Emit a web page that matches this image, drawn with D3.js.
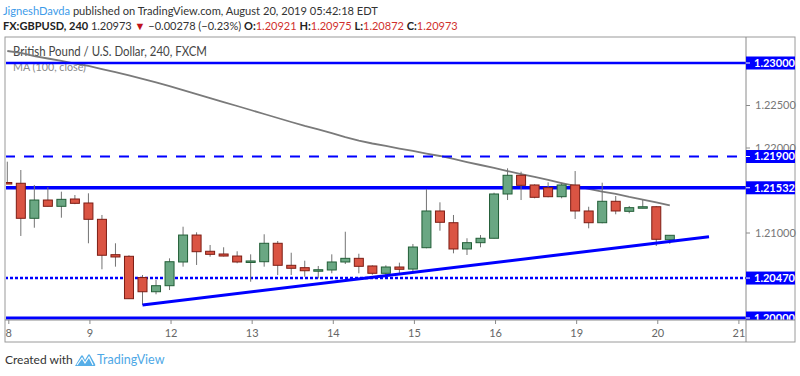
<!DOCTYPE html>
<html>
<head>
<meta charset="utf-8">
<script src="https://cdn.jsdelivr.net/npm/d3@7"></script>
<style>
  body { margin: 0; background: #fff; }
  svg { display: block; font-family: Lato, "Open Sans", sans-serif; }
</style>
</head>
<body>
<svg id="chart" width="800" height="376"></svg>
<script>
// --- data (GBPUSD 240, FXCM) ---
const dayLabels = ['8', '9', '12', '13', '14', '15', '16', '19', '20', '21'];
const candlesPerDay = 6;

const opens  = [1.21594, 1.21585, 1.21173, 1.21388, 1.21314, 1.21400, 1.21353, 1.21161, 1.20745, 1.20726,
                1.20476, 1.20309, 1.20380, 1.20659, 1.20976, 1.20785, 1.20753, 1.20729, 1.20659, 1.20662,
                1.20879, 1.20620, 1.20592, 1.20556, 1.20565, 1.20659, 1.20702, 1.20612, 1.20526, 1.20600,
                1.20576, 1.20827, 1.21259, 1.21121, 1.20812, 1.20886, 1.20938, 1.21459, 1.21679, 1.21565,
                1.21533, 1.21427, 1.21565, 1.21259, 1.21121, 1.21373, 1.21255, 1.21294, 1.21309, 1.20921];
const highs  = [1.21839, 1.21741, 1.21565, 1.21538, 1.21486, 1.21447, 1.21467, 1.21212, 1.20879, 1.20738,
                1.20506, 1.20447, 1.20702, 1.21074, 1.21008, 1.20859, 1.20832, 1.20785, 1.20749, 1.20985,
                1.20906, 1.20768, 1.20674, 1.20612, 1.20749, 1.21015, 1.20756, 1.20620, 1.20620, 1.20651,
                1.20871, 1.21518, 1.21361, 1.21212, 1.20938, 1.20976, 1.21474, 1.21761, 1.21721, 1.21573,
                1.21596, 1.21592, 1.21729, 1.21309, 1.21592, 1.21435, 1.21318, 1.21388, 1.21318, 1.20975];
const lows   = [1.21576, 1.20965, 1.21062, 1.21312, 1.21180, 1.21339, 1.20879, 1.20573, 1.20604, 1.20224,
                1.20153, 1.20279, 1.20329, 1.20604, 1.20624, 1.20721, 1.20724, 1.20644, 1.20427, 1.20604,
                1.20506, 1.20506, 1.20486, 1.20467, 1.20526, 1.20635, 1.20526, 1.20509, 1.20486, 1.20506,
                1.20526, 1.20820, 1.21027, 1.20761, 1.20741, 1.20832, 1.20935, 1.21388, 1.21388, 1.21408,
                1.21420, 1.21408, 1.21165, 1.21055, 1.21114, 1.21220, 1.21232, 1.21292, 1.20847, 1.20872];
const closes = [1.21582, 1.21173, 1.21388, 1.21314, 1.21396, 1.21349, 1.21161, 1.20738, 1.20718, 1.20227,
                1.20309, 1.20380, 1.20662, 1.20976, 1.20780, 1.20749, 1.20729, 1.20659, 1.20671, 1.20879,
                1.20620, 1.20585, 1.20556, 1.20568, 1.20659, 1.20702, 1.20608, 1.20526, 1.20600, 1.20573,
                1.20835, 1.21259, 1.21126, 1.20812, 1.20886, 1.20938, 1.21459, 1.21679, 1.21561, 1.21420,
                1.21427, 1.21565, 1.21259, 1.21121, 1.21373, 1.21259, 1.21298, 1.21309, 1.20926, 1.20973];

// MA(100, close), one value per candle
const maValues = [1.23141, 1.23118, 1.23082, 1.23053, 1.23024, 1.22994, 1.22965, 1.22929, 1.22894, 1.22853,
                  1.22812, 1.22771, 1.22729, 1.22682, 1.22635, 1.22588, 1.22541, 1.22494, 1.22447, 1.22400,
                  1.22353, 1.22306, 1.22259, 1.22218, 1.22176, 1.22129, 1.22088, 1.22053, 1.22024, 1.21994,
                  1.21965, 1.21935, 1.21906, 1.21871, 1.21835, 1.21800, 1.21765, 1.21729, 1.21694, 1.21659,
                  1.21624, 1.21588, 1.21553, 1.21518, 1.21488, 1.21459, 1.21424, 1.21394, 1.21359, 1.21324];

// horizontal levels drawn on the chart
const levels = [1.23000, 1.21900, 1.21532, 1.20470, 1.20000];
const levelDash = [null, '10,9', null, '3,2', null];
const levelWidth = [2.5, 2, 3.5, 2.5, 3];

// rising trend line (candle index, price)
const trendIdx = [10, 51.9];
const trendPrice = [1.20153, 1.20956];

const priceTicks = [1.200, 1.205, 1.210, 1.215, 1.220, 1.225, 1.230];

// --- layout ---
const svg = d3.select('#chart');
const plot = {left: 5, top: 37, right: 746, bottom: 320};
const boxRight = 795, boxBottom = 342;
const blue = '#0000ff';
const fmt = d3.format('.5f');

const x = d3.scaleLinear().domain([0, 54]).range([7.3, 737.4]);
const y = d3.scaleLinear().domain([1.2, 1.23]).range([318, 63]);

// header lines: segments laid out one after another, font sized to fit the reference width
function textRow(segs, x0, y0, width) {
  const row = svg.append('g');
  const nodes = segs.map(s => row.append('text').attr('y', y0).attr('font-size', 12)
    .attr('fill', s.color).attr('font-weight', s.bold ? 'bold' : null).attr('xml:space', 'preserve')
    .text(s.text));
  const total = d3.sum(nodes, n => n.node().getComputedTextLength());
  const k = width / total;
  let cx = x0;
  nodes.forEach(n => {
    n.attr('font-size', 12 * k).attr('x', cx);
    cx += n.node().getComputedTextLength();
  });
}

const last = closes.length - 1;
textRow([
  {text: 'JigneshDavda', color: '#3d9be9'},
  {text: ' published on TradingView.com, August 20, 2019 05:42:18 EDT', color: '#333'}
], 3, 15, 375);

const row2 = [
  {text: 'FX:GBPUSD, 240 ', color: '#222', bold: true},
  {text: fmt(closes[last]) + ' ', color: '#333'},
  {text: '\u25BC ', color: '#c0121b'},
  {text: '\u22120.00278 (\u22120.23%) ', color: '#333'}
];
[['O:', opens[last]], ['H:', highs[last]], ['L:', lows[last]], ['C:', closes[last]]].forEach(([k, v], j) => {
  row2.push({text: k, color: '#222', bold: true});
  row2.push({text: fmt(v) + (j < 3 ? ' ' : ''), color: '#d0312d'});
});
textRow(row2, 3, 30, 455);

// chart frame
svg.append('rect').attr('x', plot.left).attr('y', plot.top)
  .attr('width', boxRight - plot.left).attr('height', boxBottom - plot.top)
  .attr('fill', '#fff').attr('stroke', '#9a9a9a');

const defs = svg.append('defs');
defs.append('clipPath').attr('id', 'clip')
  .append('rect').attr('x', plot.left + 1).attr('y', plot.top + 1)
  .attr('width', plot.right - plot.left - 1).attr('height', plot.bottom - plot.top - 1);
defs.append('clipPath').attr('id', 'axisclip')
  .append('rect').attr('x', plot.right).attr('y', plot.top)
  .attr('width', boxRight - plot.right).attr('height', plot.bottom - plot.top);

// title + legend
svg.append('text').attr('x', 13).attr('y', 56).attr('font-size', 13).attr('fill', '#444')
  .attr('textLength', 194).attr('lengthAdjust', 'spacingAndGlyphs')
  .text('British Pound / U.S. Dollar, 240, FXCM');
svg.append('text').attr('x', 13).attr('y', 71).attr('font-size', 12).attr('fill', '#8a8a8a')
  .attr('textLength', 73).attr('lengthAdjust', 'spacingAndGlyphs')
  .text('MA (100, close)');

const g = svg.append('g').attr('clip-path', 'url(#clip)');

// MA line
g.append('path').datum(maValues)
  .attr('fill', 'none').attr('stroke', '#7a7a7a').attr('stroke-width', 1.8)
  .attr('d', d3.line().x((d, i) => x(i)).y(d => y(d)));

// levels
levels.forEach((p, i) => {
  g.append('line').attr('x1', plot.left).attr('x2', plot.right)
    .attr('y1', y(p)).attr('y2', y(p))
    .attr('stroke', blue).attr('stroke-width', levelWidth[i])
    .attr('stroke-dasharray', levelDash[i]);
});

// candles
const candles = opens.map((o, i) => ({i, o, h: highs[i], l: lows[i], c: closes[i]}));
const bodyW = 9;
const cg = g.selectAll('g.candle').data(candles).join('g').attr('class', 'candle');
cg.append('line')
  .attr('x1', d => x(d.i)).attr('x2', d => x(d.i))
  .attr('y1', d => y(d.h)).attr('y2', d => y(d.l))
  .attr('stroke', '#737373').attr('stroke-width', 1);
cg.append('rect')
  .attr('x', d => x(d.i) - bodyW / 2)
  .attr('y', d => y(Math.max(d.o, d.c)))
  .attr('width', bodyW)
  .attr('height', d => Math.max(1.5, Math.abs(y(d.o) - y(d.c))))
  .attr('fill', d => d.c >= d.o ? '#6aa783' : '#da5443')
  .attr('stroke', d => d.c >= d.o ? '#225e37' : '#7d1d14')
  .attr('stroke-width', 1);

// trend line
g.append('line')
  .attr('x1', x(trendIdx[0])).attr('y1', y(trendPrice[0]))
  .attr('x2', x(trendIdx[1])).attr('y2', y(trendPrice[1]))
  .attr('stroke', blue).attr('stroke-width', 3);

// price axis (labels hidden under a level box are skipped)
svg.append('line').attr('x1', plot.right).attr('x2', plot.right)
  .attr('y1', plot.top).attr('y2', boxBottom).attr('stroke', '#8a8a8a');
const pa = svg.append('g').attr('font-size', 11);
priceTicks.forEach(p => {
  pa.append('line').attr('x1', plot.right).attr('x2', plot.right + 4)
    .attr('y1', y(p)).attr('y2', y(p)).attr('stroke', '#8a8a8a');
  const covered = levels.some(l => Math.abs(y(l) - y(p)) < 6);
  if (covered) return;
  pa.append('text').attr('x', plot.right + 9).attr('y', y(p)).attr('dy', '0.35em')
    .attr('fill', '#777').text(fmt(p));
});
const lb = svg.append('g').attr('clip-path', 'url(#axisclip)');
levels.forEach(p => {
  lb.append('rect').attr('x', plot.right).attr('y', y(p) - 6.5)
    .attr('width', boxRight - plot.right).attr('height', 13).attr('fill', blue);
  lb.append('line').attr('x1', plot.right).attr('x2', plot.right + 4)
    .attr('y1', y(p)).attr('y2', y(p)).attr('stroke', '#fff');
  lb.append('text').attr('x', plot.right + 8).attr('y', y(p)).attr('dy', '0.36em')
    .attr('font-size', 11).attr('font-weight', 'bold').attr('fill', '#fff')
    .text(fmt(p));
});

// time axis
svg.append('line').attr('x1', plot.left).attr('x2', boxRight)
  .attr('y1', plot.bottom).attr('y2', plot.bottom).attr('stroke', '#8a8a8a');
const ta = svg.append('g').attr('font-size', 11).attr('fill', '#666');
dayLabels.forEach((lab, k) => {
  const tx = x(k * candlesPerDay) + 1.5;
  ta.append('line').attr('x1', tx).attr('x2', tx).attr('y1', plot.bottom).attr('y2', plot.bottom + 4)
    .attr('stroke', '#8a8a8a');
  ta.append('text').attr('x', Math.max(tx, 7)).attr('y', 333).attr('dy', '0.35em')
    .attr('text-anchor', 'middle').text(lab);
});

// footer
svg.append('text').attr('x', 5).attr('y', 364).attr('font-size', 12).attr('fill', '#333')
  .text('Created with');
const logo = svg.append('g').attr('transform', 'translate(73,352)');
logo.append('path')
  .attr('d', 'M2,14 L8,4 Q9,2.5 10,4 L12,8 L15,3 Q16,1.5 17,3 L22,12 Q23,14 21,14 Z')
  .attr('fill', '#56aee8');
logo.append('path').attr('d', 'M4,13 L9,6 L12,11 L16,5 L20,13')
  .attr('fill', 'none').attr('stroke', '#fff').attr('stroke-width', 1.2);
svg.append('text').attr('x', 97).attr('y', 364).attr('font-size', 12.5).attr('fill', '#4ea8e6')
  .text('TradingView');
</script>
</body>
</html>
